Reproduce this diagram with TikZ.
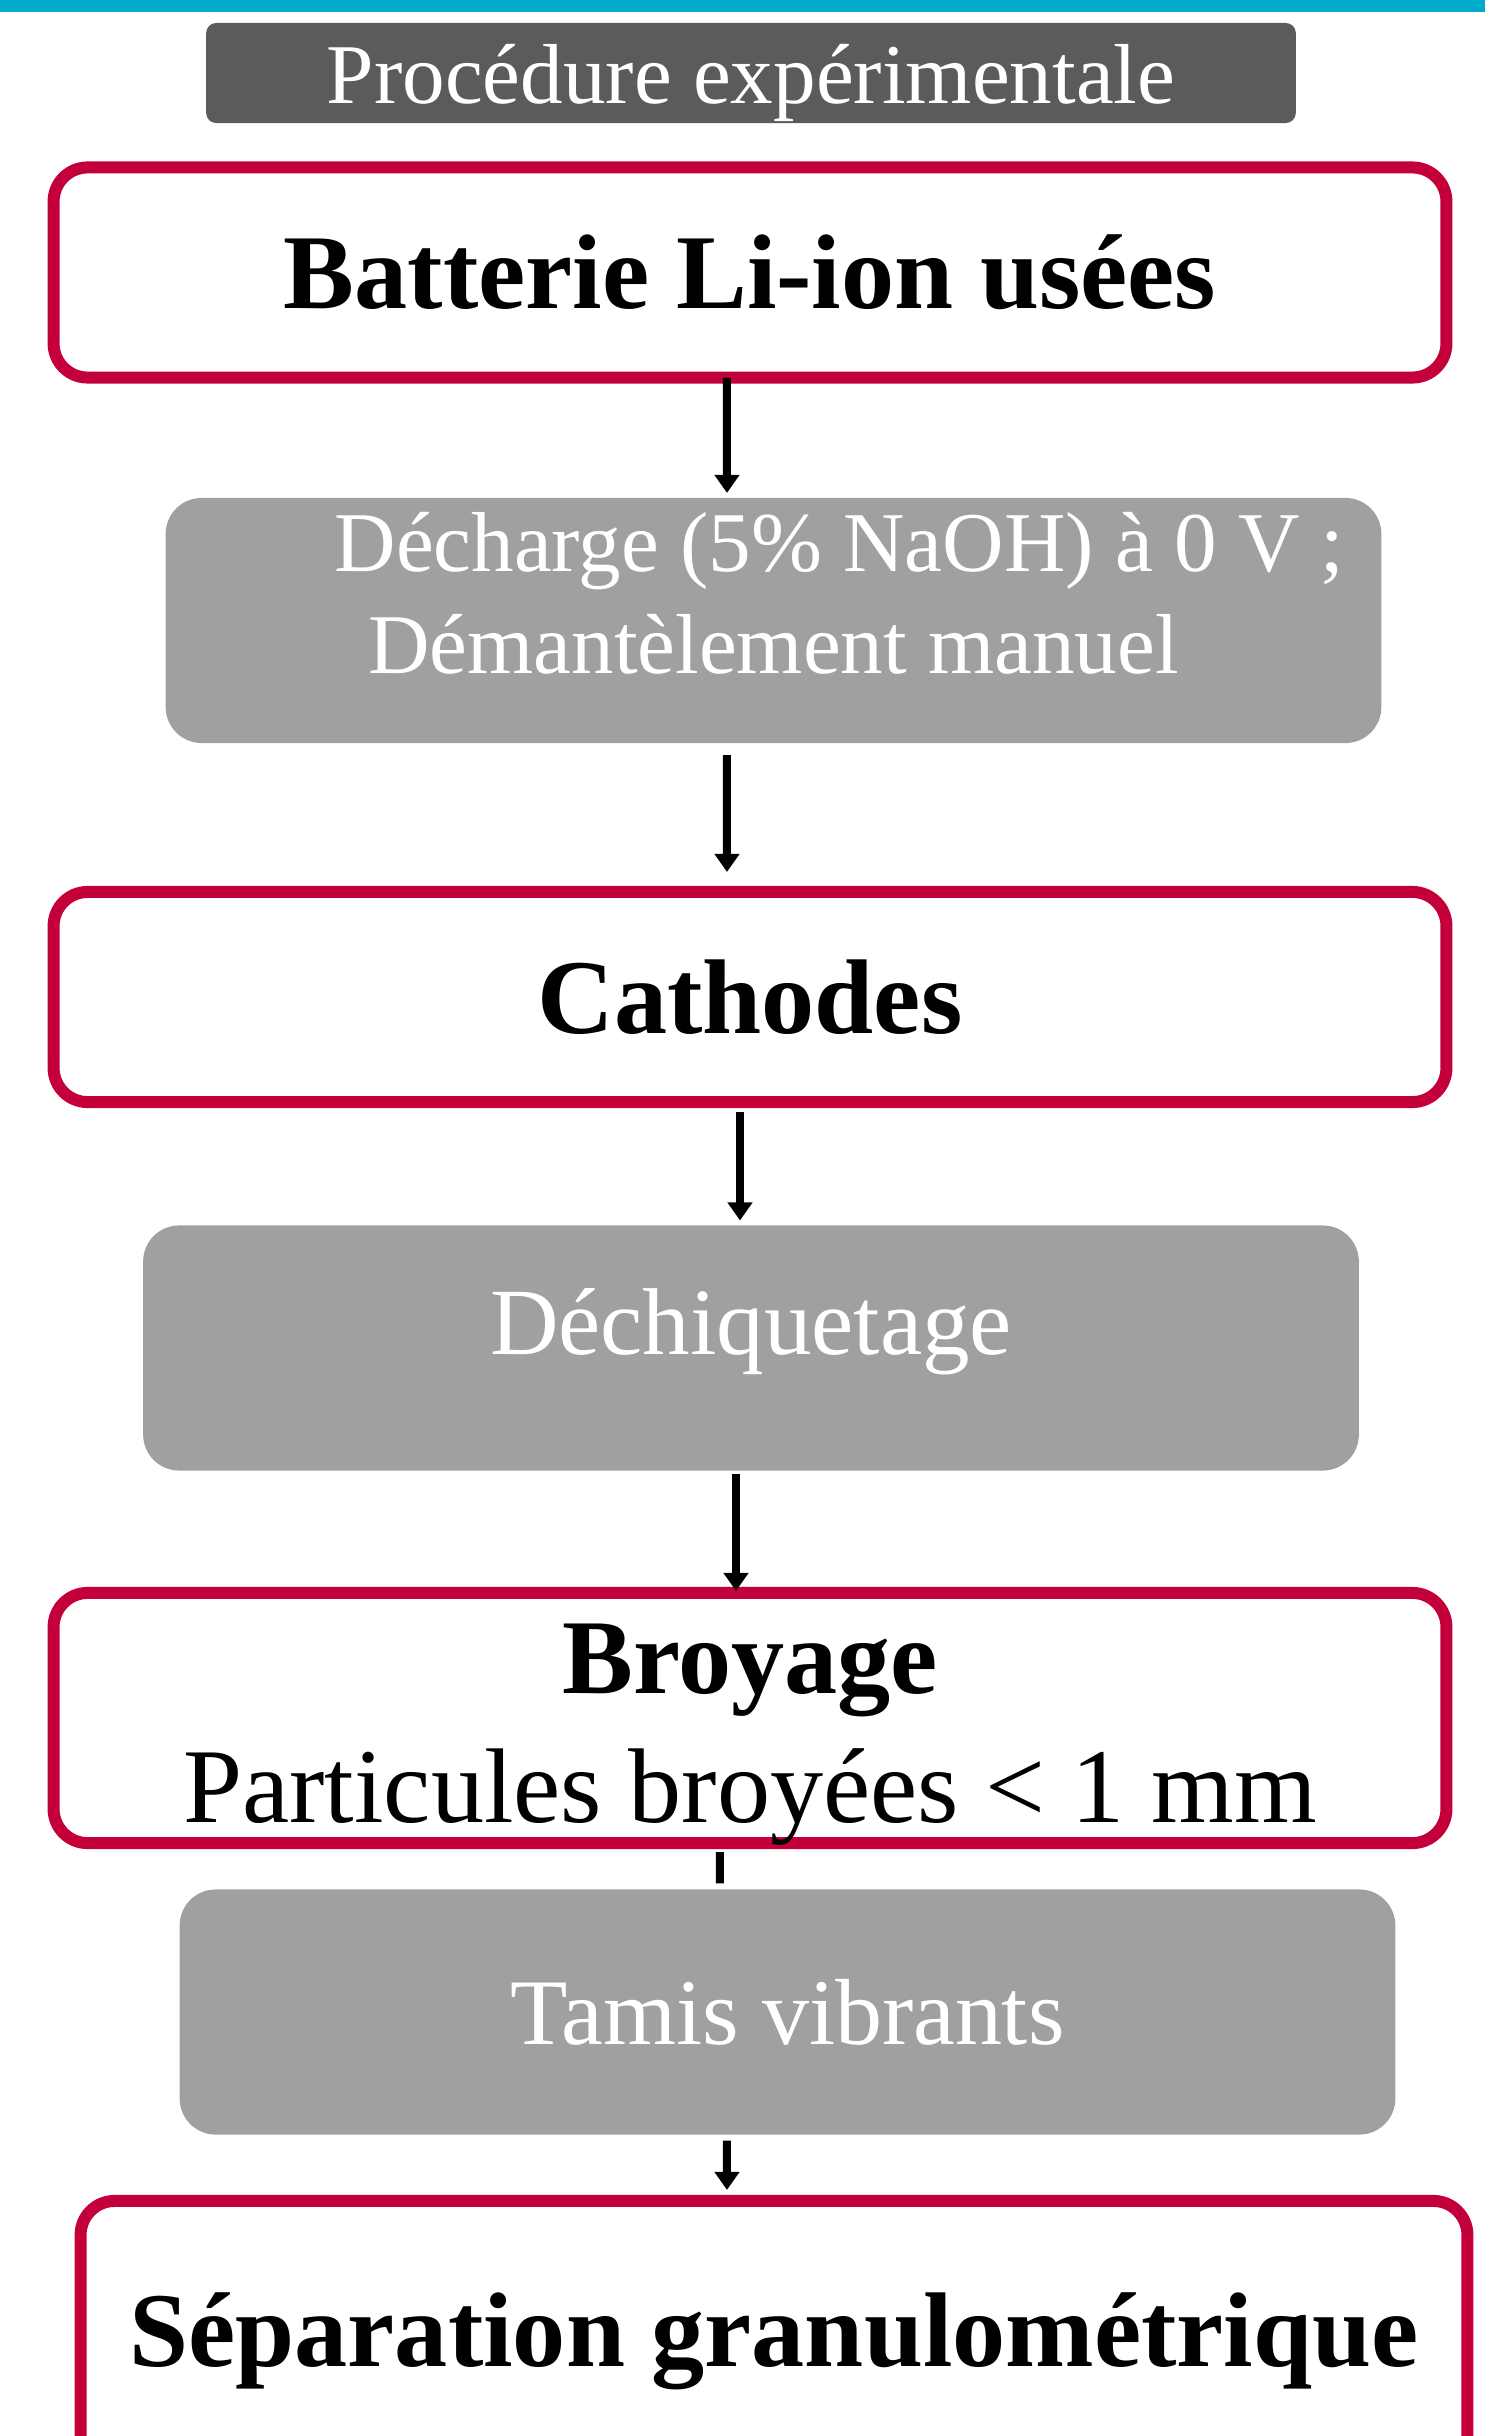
\documentclass[tikz,border=0pt]{standalone}
\usepackage{fontspec}
\setmainfont{Liberation Serif}
\usetikzlibrary{arrows.meta}
\definecolor{bordeaux}{RGB}{196,0,58}
\definecolor{bandeau}{RGB}{0,170,204}
\definecolor{grisfonce}{RGB}{91,91,91}
\definecolor{grisclair}{RGB}{160,160,160}

\begin{document}
\begin{tikzpicture}[x=0.01cm, y=-0.01cm,
    etape/.style={draw=bordeaux, line width=0.12cm, rounded corners=0.34cm, fill=white, minimum width=13.92cm, minimum height=2.1cm, outer sep=0pt, font=\bfseries\fontsize{30.2}{36.7}\selectfont},
    procede/.style={fill=grisclair, rounded corners=0.36cm, minimum width=12.15cm, minimum height=2.45cm, outer sep=0pt, text=white},
    arr/.style={-{Triangle[length=0.18cm,width=0.24cm]}, line width=0.08cm}
]
\useasboundingbox (0,0) rectangle (1485,2436);
\fill[bandeau] (0,0) rectangle (1485,12);

\node[fill=grisfonce, rounded corners=0.1cm, minimum width=10.89cm, minimum height=1cm, text=white, font=\fontsize{24.2}{29}\selectfont, text height=0.6cm, text depth=0cm] (titre) at (751,73) {Procédure expérimentale};

\node[etape] (batterie) at (750,272.5) {Batterie Li-ion usées};
\node[procede, font=\fontsize{24.2}{29}\selectfont, text height=0.58cm, text depth=1.55cm] (decharge) at (773.5,620.5) {\begin{tabular}[t]{@{}c@{}}\hspace*{1.32cm}Décharge (5\% NaOH) à 0 V ;\\Démantèlement manuel\end{tabular}};
\node[etape] (cathodes) at (750,997) {Cathodes};
\node[procede, font=\fontsize{27}{32}\selectfont, text height=0.65cm, text depth=0.53cm] (dechiquetage) at (751,1348) {Déchiquetage};
\node[etape, minimum height=2.5cm, text height=0.72cm, text depth=1.22cm] (broyage) at (750,1718) {\begin{tabular}[t]{@{}c@{}}Broyage\\\mdseries Particules broyées < 1 mm\end{tabular}};
\node[procede, font=\fontsize{26.7}{32}\selectfont] (tamis) at (787.5,2012) {Tamis vibrants};
\node[etape, minimum width=13.86cm, minimum height=2.81cm] (separation) at (774,2341.5) {Séparation granulométrique};

\draw[arr, shorten >=0.05cm] ([xshift=-0.23cm]batterie.south) -- ([xshift=-0.465cm]decharge.north);
\draw[arr, shorten <=0.12cm, shorten >=0.2cm] ([xshift=-0.465cm]decharge.south) -- ([xshift=-0.23cm]cathodes.north);
\draw[arr, shorten <=0.1cm, shorten >=0.05cm] ([xshift=-0.1cm]cathodes.south) -- ([xshift=-0.11cm]dechiquetage.north);
\draw[arr, shorten <=0.03cm, shorten >=0.02cm] ([xshift=-0.15cm]dechiquetage.south) -- ([xshift=-0.14cm]broyage.north);
\draw[line width=0.08cm, shorten <=0.09cm, shorten >=0.06cm] ([xshift=-0.3cm]broyage.south) -- ([xshift=-0.675cm]tamis.north);
\draw[arr, shorten <=0.06cm, shorten >=0.11cm] ([xshift=-0.605cm]tamis.south) -- ([xshift=-0.47cm]separation.north);
\end{tikzpicture}
\end{document}
